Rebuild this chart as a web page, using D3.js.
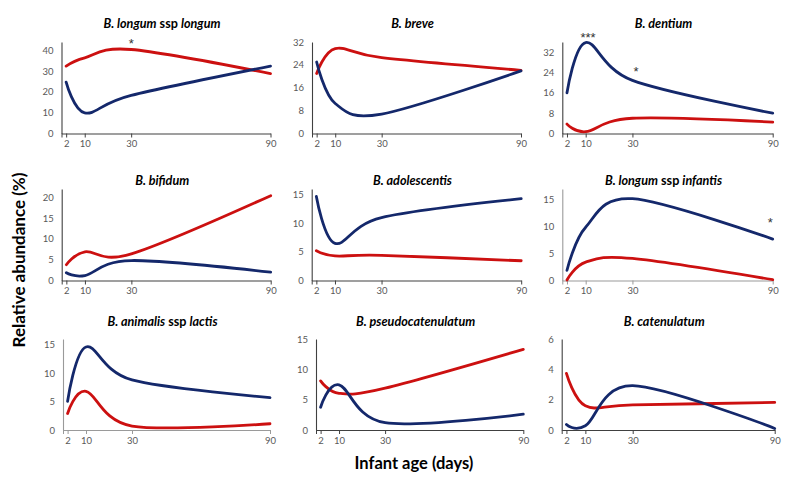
<!DOCTYPE html>
<html><head><meta charset="utf-8">
<script src="https://cdn.jsdelivr.net/npm/d3@7"></script>
<style>
body{margin:0;background:#fff}
svg{display:block}
text{font-family:Lato,"Liberation Sans",Arial,sans-serif}
</style>
</head><body>
<svg id="c" width="793" height="482"></svg>
<script>
// ---------- data ----------
const days = [2, 10, 30, 90];
const xTickValues = [0, 2, 10, 30, 90];
const titles = [
  [["B. longum", "i"], [" ssp ", "n"], ["longum", "i"]],
  [["B. breve", "i"]],
  [["B. dentium", "i"]],
  [["B. bifidum", "i"]],
  [["B. adolescentis", "i"]],
  [["B. longum", "i"], [" ssp ", "n"], ["infantis", "i"]],
  [["B. animalis", "i"], [" ssp ", "n"], ["lactis", "i"]],
  [["B. pseudocatenulatum", "i"]],
  [["B. catenulatum", "i"]]
];
const redSeries = [
  [32.4, 36.4, 40.4, 28.8],
  [21.0, 29.7, 26.5, 22.1],
  [3.7, 0.7, 6.0, 4.5],
  [3.8, 6.9, 6.4, 20.4],
  [5.2, 4.3, 4.4, 3.45],
  [0.1, 3.4, 4.1, 0.15],
  [2.9, 6.8, 0.7, 1.1],
  [8.1, 6.05, 6.9, 13.3],
  [3.73, 1.6, 1.65, 1.82]
];
const blueSeries = [
  [24.7, 9.9, 18.3, 32.4],
  [25.0, 10.5, 6.8, 21.9],
  [16.0, 35.8, 20.9, 8.0],
  [1.85, 1.2, 4.8, 2.0],
  [14.7, 6.5, 11.0, 14.3],
  [1.9, 9.9, 15.2, 7.7],
  [5.05, 14.6, 8.8, 5.7],
  [3.75, 7.45, 1.2, 2.6],
  [0.37, 0.28, 2.92, 0.1]
];
const yMaxes = [44, 32, 36, 22, 16, 17, 16, 15, 6];
const yTicks = [
  [0, 10, 20, 30, 40],
  [0, 8, 16, 24, 32],
  [0, 8, 16, 24, 32],
  [0, 5, 10, 15, 20],
  [0, 5, 10, 15],
  [0, 5, 10, 15],
  [0, 5, 10, 15],
  [0, 5, 10, 15],
  [0, 2, 4, 6]
];
// significance marks: panel index, day, value, label
const starPanels = [0, 2, 2, 5];
const starDays = [30, 11, 31.5, 89];
const starValues = [44.5, 38.8, 25.5, 11.3];
const starLabels = ["*", "***", "*", "*"];

const yTitle = "Relative abundance (%)";
const xTitle = "Infant age (days)";

// ---------- layout ----------
const boxes = [
  {ax: 61.5, w: 209, top: 42, bottom: 133.5, axisColor: "#404040"},
  {ax: 312, w: 209, top: 42, bottom: 133.5, axisColor: "#404040"},
  {ax: 562.3, w: 210.4, top: 42, bottom: 133.5, axisColor: "#404040"},
  {ax: 61.7, w: 209, top: 189, bottom: 280.5, axisColor: "#404040"},
  {ax: 311.7, w: 209.5, top: 189, bottom: 280.5, axisColor: "#404040"},
  {ax: 562.3, w: 210.4, top: 189, bottom: 280.5, axisColor: "#9a9a9a"},
  {ax: 63, w: 207, top: 339, bottom: 430, axisColor: "#9a9a9a"},
  {ax: 316, w: 207.3, top: 339, bottom: 430, axisColor: "#404040"},
  {ax: 561.7, w: 213, top: 339, bottom: 430, axisColor: "#404040"}
];
const titleY = [23, 23, 23, 180, 180, 180, 321.7, 321.7, 321.7];
const titleWidths = [127, 47, 63, 60, 87, 127, 119, 130, 88];
const RED = "#cc1010", BLUE = "#14286b";

const svg = d3.select("#c");

boxes.forEach((b, i) => {
  const x = d3.scaleLinear().domain([0, 90]).range([b.ax, b.ax + b.w]);
  const y = d3.scaleLinear().domain([0, yMaxes[i]]).range([b.bottom, b.top]);
  const g = svg.append("g");

  // y axis
  const ya = g.append("g").attr("transform", `translate(${b.ax},0)`)
    .call(d3.axisLeft(y).tickValues(yTicks[i]).tickFormat(d => String(d)).tickSize(0).tickPadding(8));
  ya.select(".domain").attr("stroke", b.axisColor).attr("stroke-width", 1.1);
  ya.selectAll("text").attr("fill", "#595959").style("font-size", "9.5px")
    .style("font-family", "Lato, 'Liberation Sans', sans-serif");

  // x axis
  const xa = g.append("g").attr("transform", `translate(0,${b.bottom})`)
    .call(d3.axisBottom(x).tickValues(xTickValues).tickSize(4).tickSizeOuter(0).tickPadding(3)
      .tickFormat(d => d === 0 ? "" : String(d)));
  xa.select(".domain").attr("stroke", b.axisColor).attr("stroke-width", 1.1);
  xa.selectAll(".tick line").attr("stroke", b.axisColor).attr("stroke-width", 1);
  xa.selectAll("text").attr("fill", "#595959").style("font-size", "9.5px")
    .style("font-family", "Lato, 'Liberation Sans', sans-serif");

  const line = d3.line()
    .x((d, k) => x(days[k]))
    .y(d => y(d))
    .curve(d3.curveCardinal.tension(0));

  g.append("path").attr("d", line(redSeries[i])).attr("fill", "none")
    .attr("stroke", RED).attr("stroke-width", 2.8).attr("stroke-linecap", "round");
  g.append("path").attr("d", line(blueSeries[i])).attr("fill", "none")
    .attr("stroke", BLUE).attr("stroke-width", 2.8).attr("stroke-linecap", "round");

  // title
  const t = g.append("text")
    .attr("x", b.ax + b.w / 2 - 4).attr("y", titleY[i]).attr("dy", "0.36em")
    .attr("text-anchor", "middle").style("font-size", "12.6px").style("font-weight", "bold")
    .attr("fill", "#000");
  titles[i].forEach(p => {
    t.append("tspan").text(p[0]).style("font-style", p[1] === "i" ? "italic" : "normal");
  });
  const tw = t.node().getComputedTextLength();
  if (tw > titleWidths[i]) {
    t.attr("textLength", titleWidths[i]).attr("lengthAdjust", "spacingAndGlyphs");
  }

  // stars
  starPanels.forEach((pi, k) => {
    if (pi !== i) return;
    g.append("text").attr("x", x(starDays[k])).attr("y", y(starValues[k]) + 7)
      .attr("text-anchor", "middle").style("font-size", "13px")
      .style("font-family", "'Liberation Sans', Arial, sans-serif").attr("fill", "#333")
      .text(starLabels[k]);
  });
});

// axis titles
svg.append("text").attr("transform", "translate(19,260) rotate(-90)")
  .attr("text-anchor", "middle").attr("dy", "0.35em")
  .style("font-size", "17px").style("font-weight", "bold").attr("fill", "#000")
  .text(yTitle);
svg.append("text").attr("x", 414).attr("y", 463).attr("dy", "0.35em")
  .attr("text-anchor", "middle")
  .style("font-size", "16.5px").style("font-weight", "bold").attr("fill", "#000")
  .text(xTitle);
</script>
</body></html>
